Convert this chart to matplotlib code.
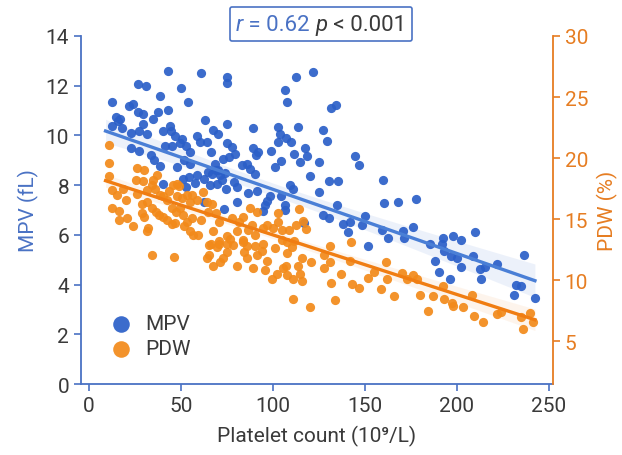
import matplotlib
matplotlib.use('Agg')
import matplotlib.pyplot as plt
import numpy as np
from matplotlib.offsetbox import TextArea, HPacker, AnchoredOffsetbox

plt.rcParams['font.family'] = ['Roboto', 'DejaVu Sans']

# MPV (left axis, fL) vs platelet count
mpv_x = [42.9, 60.9, 74.8, 74.8, 26.6, 31.2, 50.2, 38.6, 12.5, 53.6, 21.9, 24.1, 26.6, 29.5,
         37.3, 42.9, 14.7, 16.8, 16.0, 34.6, 63.2, 74.8, 89.3, 12.3, 18.1, 22.7, 27.3, 29.5,
         31.3, 40.0, 44.0, 44.6, 46.7, 50.7, 49.5, 52.7, 54.9, 41.5, 44.9, 58.9, 60.3, 64.0,
         67.6, 70.3, 74.8, 77.5, 79.3, 89.3, 92.0, 66.1, 72.7, 75.9, 68.3, 70.3, 22.7, 27.3,
         33.5, 35.3, 38.6, 47.7, 51.8, 54.9, 51.3, 54.3, 58.5, 57.6, 62.5, 64.8, 66.7, 69.0,
         71.2, 74.1, 65.8, 69.7, 72.1, 74.5, 78.8, 80.6, 83.0, 85.7, 87.5, 90.2, 86.6, 91.1,
         40.4, 52.7, 62.5, 73.5, 80.3,
         121.9, 112.5, 106.5, 107.4, 131.3, 134.2, 102.7, 113.4, 127.3, 103.8, 102.7, 107.1,
         110.0, 129.2, 90.6, 98.7, 117.4, 111.6, 118.3, 114.7, 104.3, 125.2, 144.6, 146.7,
         101.1, 120.3, 130.4, 135.3, 159.6, 109.2, 111.0, 125.2, 98.4, 96.9, 95.7, 94.4,
         104.2, 106.5, 106.5, 160.5, 168.1, 177.7, 134.9, 127.3, 130.4, 117.0, 138.2, 141.8,
         150.0, 140.6, 148.4, 151.8, 159.2, 162.7, 170.5, 175.9, 171.2,
         185.3, 192.6, 197.7, 202.3, 210.0, 191.8, 192.9, 188.2, 196.6, 200.2, 208.9, 202.0,
         190.4, 196.2, 212.5, 215.2, 212.9, 221.6, 236.4, 232.1, 234.6, 231.0, 242.4]
mpv_y = [12.58, 12.51, 12.37, 12.10, 12.08, 12.00, 11.90, 11.60, 11.34, 11.34, 11.19, 11.26,
         10.93, 10.86, 10.93, 11.03, 10.73, 10.65, 10.56, 10.66, 10.63, 10.45, 10.31, 10.39,
         10.31, 10.11, 10.19, 10.45, 10.04, 10.19, 10.39, 10.18, 9.99, 9.85, 9.68, 9.57, 9.34,
         9.57, 9.58, 9.99, 9.74, 9.74, 10.22, 10.04, 9.68, 9.54, 9.27, 9.50, 9.34, 9.34, 9.07,
         9.12, 8.87, 8.60, 9.50, 9.38, 9.20, 9.03, 8.77, 8.73, 9.00, 8.87, 8.26, 8.33, 8.42,
         8.10, 8.23, 8.53, 8.46, 8.60, 8.39, 8.50, 7.99, 8.06, 8.21, 7.85, 8.12, 7.92, 8.80,
         8.87, 8.66, 8.46, 7.69, 7.75, 8.06, 7.92, 7.32, 7.04, 7.32,
         12.55, 12.33, 11.84, 11.34, 11.12, 11.23, 10.35, 10.35, 10.23, 10.04, 9.72, 9.88,
         9.72, 9.77, 9.23, 9.37, 9.51, 9.27, 9.16, 8.93, 8.96, 8.93, 9.18, 8.79, 8.73, 8.38,
         8.15, 8.15, 8.22, 7.99, 7.83, 7.72, 7.58, 7.38, 7.21, 6.94, 7.55, 7.21, 6.98, 7.29,
         7.32, 7.45, 7.21, 6.81, 6.68, 6.48, 6.44, 6.53, 6.77, 6.10, 6.40, 5.56, 6.21, 5.87,
         6.15, 6.30, 5.86,
         5.63, 5.86, 5.96, 5.78, 6.13, 5.63, 5.36, 4.95, 5.15, 5.05, 5.13, 4.72, 4.51, 4.21,
         4.62, 4.69, 4.21, 4.82, 5.19, 3.98, 3.94, 3.60, 3.47]

# PDW (right axis, %) vs platelet count
pdw_x = [11.0, 11.0, 11.0, 12.4, 15.4, 18.3, 12.4, 16.5, 20.1, 25.9, 30.1, 25.5, 29.5, 25.9,
         31.3, 34.6, 37.1, 34.1, 35.9, 38.6, 43.7, 45.5, 31.3, 28.6, 40.4, 42.6, 47.7, 48.9,
         48.0, 50.4, 53.1, 55.8, 54.9, 58.5, 61.8, 64.0, 66.7, 16.5, 20.8, 24.1, 28.6, 29.9,
         32.2, 31.3, 34.1, 36.4, 38.2, 40.4, 42.6, 44.9, 46.7, 44.9, 47.3, 49.5, 53.1, 51.6,
         54.9, 56.7, 59.4, 51.3, 55.8, 60.7, 64.8, 69.0, 70.8, 67.6, 70.8, 66.1, 74.8, 78.4,
         80.3, 83.5, 86.6, 88.4, 90.2, 77.5, 81.7, 83.9, 87.5, 91.1,
         34.1, 46.4, 64.0, 65.4, 67.6, 71.2, 73.0, 74.8, 80.3, 84.2, 85.7, 89.3, 90.2, 91.1,
         65.4, 69.4, 70.8, 74.8, 76.6, 83.9, 85.7,
         94.7, 96.6, 100.2, 102.9, 102.9, 105.1, 108.9, 112.3, 114.3, 116.5, 117.9, 94.7,
         93.8, 101.1, 96.6, 95.7, 104.7, 107.4, 111.4, 110.2, 107.8, 105.6, 107.1, 102.3,
         99.3, 107.8, 111.0, 114.7, 115.6, 113.8, 115.6, 120.5, 110.7, 120.1, 127.7, 131.0,
         127.7, 131.0, 136.8, 131.5, 133.9, 142.2, 142.8, 146.9, 141.8, 151.8, 154.9, 158.5,
         161.4, 162.1, 165.8, 169.9, 173.0, 176.3, 178.1, 179.9, 184.4,
         186.8, 192.2, 192.9, 197.1, 198.0, 203.4, 208.0, 209.4, 214.3, 221.9, 223.7, 234.6,
         236.0, 239.7, 241.1]
pdw_y = [21.05, 19.6, 18.5, 17.4, 17.0, 17.5, 15.95, 15.7, 16.6, 19.2, 19.0, 18.2, 18.1, 17.1,
         17.4, 18.2, 18.6, 17.8, 17.5, 17.0, 17.3, 17.8, 16.4, 16.2, 16.9, 16.6, 17.9, 17.7,
         16.9, 16.7, 17.0, 17.0, 16.4, 16.6, 17.2, 16.4, 16.2, 14.9, 15.1, 14.4, 15.5, 15.2,
         14.25, 14.0, 15.95, 15.6, 15.3, 15.2, 14.9, 14.6, 14.7, 15.95, 15.6, 15.95, 14.8, 14.4,
         14.0, 13.7, 13.7, 15.3, 15.1, 14.9, 15.6, 15.5, 14.8, 14.0, 13.2, 13.0, 13.6, 12.9,
         14.0, 13.3, 14.1, 14.5, 13.7, 15.1, 14.8, 15.2, 15.9, 15.6,
         12.1, 11.9, 11.8, 12.1, 11.2, 11.5, 11.8, 12.3, 11.2, 12.3, 11.8, 10.96, 12.8, 12.05,
         12.9, 12.7, 13.0, 13.0, 13.4, 13.15, 12.8,
         14.25, 14.5, 14.25, 14.8, 15.5, 14.1, 14.1, 14.5, 15.8, 14.85, 14.2, 13.0,
         12.4, 12.6, 11.6, 10.8, 13.3, 13.15, 13.2, 12.7, 12.2, 10.96, 11.2, 10.5,
         10.1, 10.4, 10.1, 10.5, 9.9, 11.2, 11.8, 11.45, 8.5, 7.8, 12.05, 12.8,
         11.0, 11.5, 10.5, 9.8, 8.35, 13.1, 9.65, 9.4, 11.56, 10.2, 10.7, 9.3,
         11.45, 10.1, 8.7, 10.6, 10.1, 10.4, 10.1, 8.8, 7.45,
         8.7, 9.5, 8.5, 8.1, 7.9, 7.8, 8.8, 7.1, 6.6, 7.2, 7.4, 6.95,
         6.0, 7.3, 6.6]

# regression lines as drawn in the chart: (intercept, slope)
mpv_fit = (10.41, -0.0258)
pdw_fit = (18.59, -0.0488)

BLUE = '#2b5fc8'
BLUE_LINE = '#4a7fd6'
BLUE_AXIS = '#4a72c4'
ORANGE = '#f28a1a'
ORANGE_LINE = '#f07d12'
ORANGE_AXIS = '#e67d22'
TEXT = '#3a3a3a'


def line_with_band(x, y, fit, xs):
    x = np.asarray(x)
    y = np.asarray(y)
    icpt, slope = fit
    pred = icpt + slope * xs
    resid = y - (icpt + slope * x)
    n = len(x)
    s = np.sqrt(np.sum(resid ** 2) / (n - 2))
    se = s * np.sqrt(1 / n + (xs - x.mean()) ** 2 / np.sum((x - x.mean()) ** 2))
    return pred, 2.2 * se


fig = plt.figure(figsize=(6.22, 4.56), dpi=100)
ax = fig.add_axes([0.1302, 0.1557, 0.7588, 0.7632])
ax2 = ax.twinx()

xs = np.linspace(min(min(mpv_x), min(pdw_x)) - 2, max(max(mpv_x), max(pdw_x)), 100)

m_pred, m_ci = line_with_band(mpv_x, mpv_y, mpv_fit, xs)
p_pred, p_ci = line_with_band(pdw_x, pdw_y, pdw_fit, xs)

ax.fill_between(xs, m_pred - m_ci, m_pred + m_ci, color=BLUE_LINE, alpha=0.10, lw=0, zorder=1)
ax.scatter(mpv_x, mpv_y, s=44, color=BLUE, alpha=0.92, lw=0, zorder=2, label='MPV')
ax.plot(xs, m_pred, color=BLUE_LINE, lw=2.4, zorder=3)

ax2.fill_between(xs, p_pred - p_ci, p_pred + p_ci, color=ORANGE_LINE, alpha=0.08, lw=0, zorder=1)
ax2.scatter(pdw_x, pdw_y, s=44, color=ORANGE, alpha=0.92, lw=0, zorder=2, label='PDW')
ax2.plot(xs, p_pred, color=ORANGE_LINE, lw=2.4, zorder=3)

ax.set_xlim(-4.35, 252.2)
ax.set_ylim(0, 14)
ax2.set_ylim(1.5, 30)
ax.set_xticks([0, 50, 100, 150, 200, 250])
ax.set_yticks(range(0, 15, 2))
ax2.set_yticks([5, 10, 15, 20, 25, 30])

for s in ['top', 'right']:
    ax.spines[s].set_visible(False)
for s in ['top', 'left', 'bottom']:
    ax2.spines[s].set_visible(False)
ax.spines['left'].set_color(BLUE_AXIS)
ax.spines['bottom'].set_color(BLUE_AXIS)
ax2.spines['right'].set_color(ORANGE_AXIS)
for sp in [ax.spines['left'], ax.spines['bottom'], ax2.spines['right']]:
    sp.set_linewidth(1.3)

ax.tick_params(axis='y', colors=BLUE_AXIS, labelcolor=TEXT, labelsize=15, length=5, width=1.2)
ax.tick_params(axis='x', colors=BLUE_AXIS, labelcolor=TEXT, labelsize=15, length=5, width=1.2)
ax2.tick_params(axis='y', colors=ORANGE_AXIS, labelcolor=ORANGE_AXIS, labelsize=15, length=5, width=1.2)

ax.set_xlabel('Platelet count (10⁹/L)', fontsize=15, color=TEXT, labelpad=7)
ax.set_ylabel('MPV (fL)', fontsize=15, color=BLUE_AXIS, labelpad=5)
ax2.set_ylabel('PDW (%)', fontsize=15, color=ORANGE_AXIS, labelpad=6)

h1, l1 = ax.get_legend_handles_labels()
h2, l2 = ax2.get_legend_handles_labels()
ax2.legend(h1 + h2, l1 + l2, loc='lower left', bbox_to_anchor=(0.0, 0.02), frameon=False,
           fontsize=15, markerscale=1.8, handletextpad=0.2, labelspacing=0.3,
           labelcolor=TEXT)

parts = [
    TextArea('r', textprops=dict(color=BLUE_AXIS, fontsize=16, style='italic')),
    TextArea(' = 0.62 ', textprops=dict(color=BLUE_AXIS, fontsize=16)),
    TextArea('p', textprops=dict(color=TEXT, fontsize=16, style='italic')),
    TextArea(' < 0.001', textprops=dict(color=TEXT, fontsize=16)),
]
box = AnchoredOffsetbox(loc='center', child=HPacker(children=parts, pad=0, sep=0),
                        bbox_to_anchor=(0.516, 0.945), bbox_transform=fig.transFigure,
                        frameon=True, pad=0.45, borderpad=0)
box.patch.set_edgecolor(BLUE_AXIS)
box.patch.set_linewidth(1.2)
box.patch.set_boxstyle('round,pad=0,rounding_size=0.15')
fig.add_artist(box)

fig.savefig('out.png', dpi=100)
